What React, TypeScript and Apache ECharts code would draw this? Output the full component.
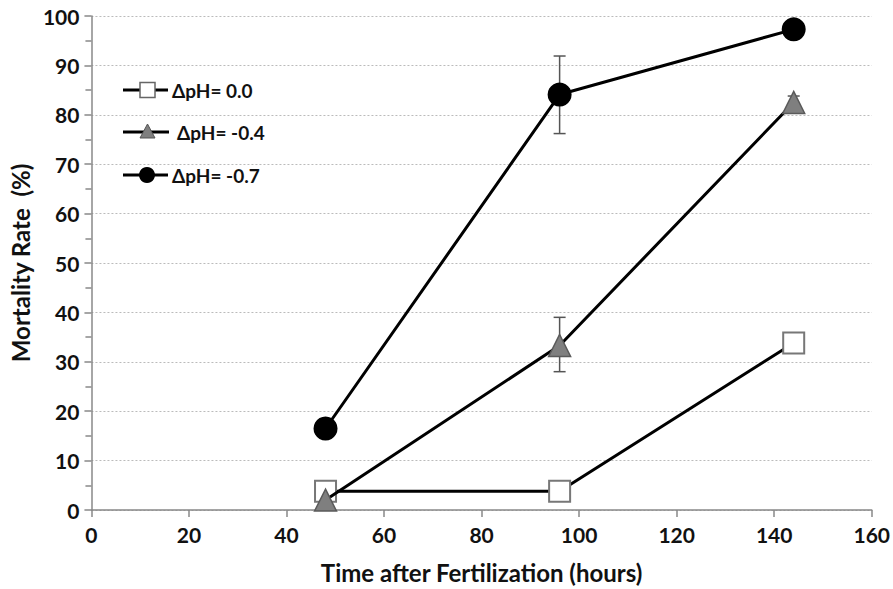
import React, { useEffect, useRef } from "react";
import * as echarts from "echarts";

const hours = [48, 96, 144];
const ph00 = [3.8, 3.8, 33.8];
const ph04 = [2, 33.3, 82.5];
const ph07 = [16.5, 84.1, 97.3];
const errBars = [
  [96, 28.0, 39.0],
  [96, 76.2, 91.9],
  [144, 81, 83.8],
];
const legendLabels = ["ΔpH= 0.0", "ΔpH= -0.4", "ΔpH= -0.7"];
const yTitle = "Mortality Rate  (%)";
const xTitle = "Time after Fertilization (hours)";

const FONT = "Lato, 'Open Sans', sans-serif";

export default function App() {
  const ref = useRef<HTMLDivElement>(null);
  useEffect(() => {
    const chart = echarts.init(ref.current!, null, { renderer: "svg" });
    const lineStyle = { color: "#000", width: 3 };
    const legendRows = [
      { y: 90, textX: 172, lineEnd: 168 },
      { y: 132, textX: 177, lineEnd: 169 },
      { y: 175, textX: 172, lineEnd: 168 },
    ];
    const legendGraphics: any[] = [];
    legendRows.forEach((r, i) => {
      legendGraphics.push({
        type: "line",
        shape: { x1: 123, y1: r.y, x2: r.lineEnd, y2: r.y },
        style: { stroke: "#000", lineWidth: 3 },
        z: 10,
      });
      if (i === 0) {
        legendGraphics.push({
          type: "rect",
          shape: { x: 140, y: r.y - 7.5, width: 15, height: 15 },
          style: { fill: "#fff", stroke: "#666", lineWidth: 1.5 },
          z: 11,
        });
      } else if (i === 1) {
        legendGraphics.push({
          type: "polygon",
          shape: { points: [[147.5, r.y - 8], [140, r.y + 6], [155, r.y + 6]] },
          style: { fill: "#7f7f7f", stroke: "#555", lineWidth: 1 },
          z: 11,
        });
      } else {
        legendGraphics.push({
          type: "circle",
          shape: { cx: 147, cy: r.y, r: 8 },
          style: { fill: "#000" },
          z: 11,
        });
      }
      legendGraphics.push({
        type: "text",
        x: r.textX,
        y: r.y,
        style: {
          text: legendLabels[i],
          fill: "#111",
          font: `bold 19px ${FONT}`,
          verticalAlign: "middle",
          align: "left",
        },
        z: 11,
      });
    });

    chart.setOption({
      animation: false,
      backgroundColor: "#fff",
      grid: { left: 90, right: 21, top: 16, bottom: 77.5, containLabel: false },
      xAxis: {
        type: "value",
        min: 0,
        max: 160,
        interval: 20,
        name: xTitle,
        nameLocation: "middle",
        nameGap: 50,
        nameTextStyle: { fontFamily: FONT, fontWeight: "bold", fontSize: 24, color: "#111" },
        axisLine: { lineStyle: { color: "#888", width: 1.5 } },
        axisTick: { show: true, inside: false, length: 7, lineStyle: { color: "#888", width: 1.5 } },
        axisLabel: { fontFamily: FONT, fontWeight: "bold", fontSize: 21, color: "#111", margin: 14 },
        splitLine: { show: false },
      },
      yAxis: {
        type: "value",
        min: 0,
        max: 100,
        interval: 10,
        name: yTitle,
        nameLocation: "middle",
        nameGap: 58,
        nameTextStyle: { fontFamily: FONT, fontWeight: "bold", fontSize: 24, color: "#111" },
        axisLine: { show: true, lineStyle: { color: "#888", width: 1.5 } },
        axisTick: { show: true, inside: false, length: 7, lineStyle: { color: "#888", width: 1.5 } },
        minorTick: { show: true, splitNumber: 2, length: 6, lineStyle: { color: "#888", width: 1.5 } },
        axisLabel: { fontFamily: FONT, fontWeight: "bold", fontSize: 21, color: "#111", margin: 12 },
        splitLine: { show: true, lineStyle: { color: "#bbb", type: [2, 2], width: 1 } },
      },
      graphic: legendGraphics,
      series: [
        {
          type: "custom",
          name: "err",
          z: 1,
          data: errBars,
          renderItem: (params: any, api: any) => {
            const x = api.value(0);
            const lo = api.coord([x, api.value(1)]);
            const hi = api.coord([x, api.value(2)]);
            const w = 6;
            const st = { stroke: "#555", lineWidth: 1.5 };
            return {
              type: "group",
              children: [
                { type: "line", shape: { x1: lo[0], y1: lo[1], x2: hi[0], y2: hi[1] }, style: st },
                { type: "line", shape: { x1: lo[0] - w, y1: lo[1], x2: lo[0] + w, y2: lo[1] }, style: st },
                { type: "line", shape: { x1: hi[0] - w, y1: hi[1], x2: hi[0] + w, y2: hi[1] }, style: st },
              ],
            };
          },
        },
        {
          type: "line",
          name: legendLabels[0],
          data: hours.map((h, i) => [h, ph00[i]]),
          symbol: "rect",
          symbolSize: 21,
          lineStyle,
          itemStyle: { color: "#fff", borderColor: "#777", borderWidth: 2 },
          z: 3,
        },
        {
          type: "line",
          name: legendLabels[1],
          data: hours.map((h, i) => [h, ph04[i]]),
          symbol: "triangle",
          symbolSize: [22, 22],
          lineStyle,
          itemStyle: { color: "#7f7f7f", borderColor: "#5a5a5a", borderWidth: 1.5 },
          z: 4,
        },
        {
          type: "line",
          name: legendLabels[2],
          data: hours.map((h, i) => [h, ph07[i]]),
          symbol: "circle",
          symbolSize: 24,
          lineStyle,
          itemStyle: { color: "#000", borderWidth: 0 },
          z: 5,
        },
      ],
    });
    return () => chart.dispose();
  }, []);
  return <div ref={ref} style={{ width: 893, height: 589, position: "absolute", left: 0, top: 0 }} />;
}
